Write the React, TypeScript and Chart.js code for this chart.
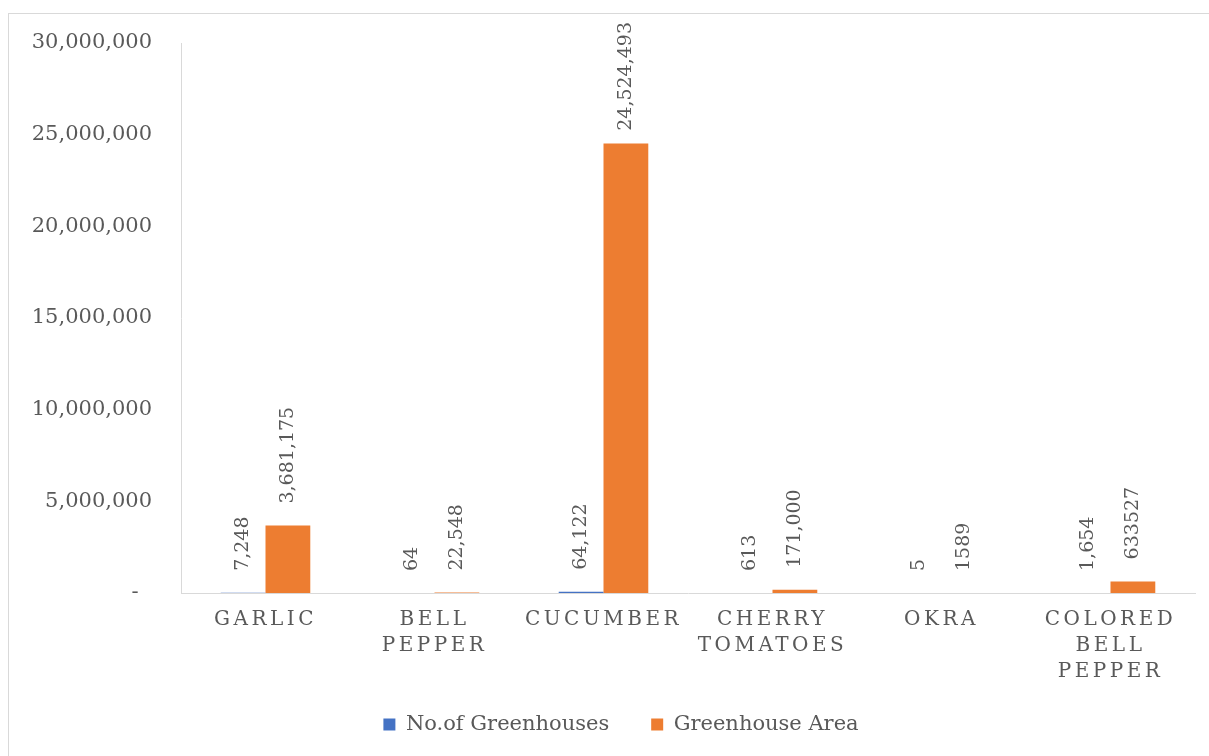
import React, { useEffect, useRef } from "react";
import { Chart, registerables } from "chart.js";

Chart.register(...registerables);

const categories: (string | string[])[] = [
  "GARLIC",
  ["BELL", "PEPPER"],
  "CUCUMBER",
  ["CHERRY", "TOMATOES"],
  "OKRA",
  ["COLORED", "BELL", "PEPPER"],
];
const greenhouseCounts = [7248, 64, 64122, 613, 5, 1654];
const greenhouseAreas = [3681175, 22548, 24524493, 171000, 1589, 633527];
const countLabels = ["7,248", "64", "64,122", "613", "5", "1,654"];
const areaLabels = ["3,681,175", "22,548", "24,524,493", "171,000", "1589", "633527"];
const seriesNames = ["No.of Greenhouses", "Greenhouse Area"];
const yMin = 0;
const yMax = 30000000;
const yStep = 5000000;

const FONT = "'DejaVu Serif', 'Liberation Serif', serif";
const GREY = "#595959";
const LINE = "#d9d9d9";
const BLUE = "#4472C4";
const ORANGE = "#ED7D31";
const LABEL_GAP = 22;

const barLabelPlugin = {
  id: "barLabels",
  beforeDraw(chart: any) {
    // widen the label clip regions so the tick labels are not cut
    const x = chart.scales.x;
    x.bottom = x.top + 110;
    const y = chart.scales.y;
    y.left = 0;
  },
  afterDatasetsDraw(chart: any) {
    const ctx = chart.ctx as CanvasRenderingContext2D;
    const texts = [countLabels, areaLabels];
    const minTop = chart.chartArea.top - 21;
    chart.data.datasets.forEach((_ds: any, di: number) => {
      const meta = chart.getDatasetMeta(di);
      meta.data.forEach((bar: any, i: number) => {
        ctx.save();
        ctx.font = `19px ${FONT}`;
        const w = ctx.measureText(texts[di][i]).width;
        let start = bar.y - LABEL_GAP;
        if (start - w < minTop) start = minTop + w;
        ctx.translate(bar.x, start);
        ctx.rotate(-Math.PI / 2);
        ctx.fillStyle = GREY;
        ctx.textAlign = "left";
        ctx.textBaseline = "middle";
        ctx.fillText(texts[di][i], 0, 0);
        ctx.restore();
      });
    });
    // letter spacing for the x-axis labels, drawn after datasets (z: 1)
    (ctx as any).letterSpacing = "3.5px";
  },
  afterDraw(chart: any) {
    (chart.ctx as any).letterSpacing = "0px";
  },
};

export default function App() {
  const canvasRef = useRef<HTMLCanvasElement | null>(null);

  useEffect(() => {
    if (!canvasRef.current) return;
    const chart = new Chart(canvasRef.current, {
      type: "bar",
      data: {
        labels: categories as any,
        datasets: [
          {
            label: seriesNames[0],
            data: greenhouseCounts,
            backgroundColor: BLUE,
            categoryPercentage: 0.53,
            barPercentage: 1,
          },
          {
            label: seriesNames[1],
            data: greenhouseAreas,
            backgroundColor: ORANGE,
            categoryPercentage: 0.53,
            barPercentage: 1,
          },
        ],
      },
      options: {
        animation: false,
        responsive: true,
        maintainAspectRatio: false,
        layout: { padding: { left: 38, top: 29, right: 14, bottom: 11 } },
        plugins: {
          tooltip: { enabled: false },
          legend: {
            position: "bottom",
            maxHeight: 73,
            labels: {
              boxWidth: 12,
              boxHeight: 12,
              padding: 42,
              color: GREY,
              font: { family: FONT, size: 21 },
            },
          },
        },
        scales: {
          x: {
            grid: { display: false, drawTicks: false },
            border: { display: true, color: LINE, width: 1 },
            ticks: {
              z: 1,
              color: GREY,
              font: { family: FONT, size: 20, lineHeight: 1.3 },
              padding: 14,
              maxRotation: 0,
              autoSkip: false,
            },
            afterFit(scale: any) {
              scale.height = 79;
            },
          },
          y: {
            min: yMin,
            max: yMax,
            grid: { display: false, drawTicks: false },
            border: { display: true, color: LINE, width: 1 },
            ticks: {
              stepSize: yStep,
              color: GREY,
              padding: 29,
              font: { family: FONT, size: 21 },
              callback: (v: any) => (Number(v) === 0 ? "-  " : Number(v).toLocaleString("en-US")),
            },
            afterFit(scale: any) {
              scale.width = 134;
              scale.paddingTop = 0;
              scale.paddingBottom = 0;
            },
          },
        },
      },
      plugins: [barLabelPlugin],
    });
    return () => chart.destroy();
  }, []);

  return (
    <div
      style={{
        position: "absolute",
        left: 8,
        top: 13,
        width: 1201,
        height: 743,
        borderTop: `1px solid ${LINE}`,
        borderLeft: `1px solid ${LINE}`,
        boxSizing: "border-box",
        background: "#fff",
      }}
    >
      <div style={{ position: "relative", width: "100%", height: "100%" }}>
        <canvas ref={canvasRef} />
      </div>
    </div>
  );
}
